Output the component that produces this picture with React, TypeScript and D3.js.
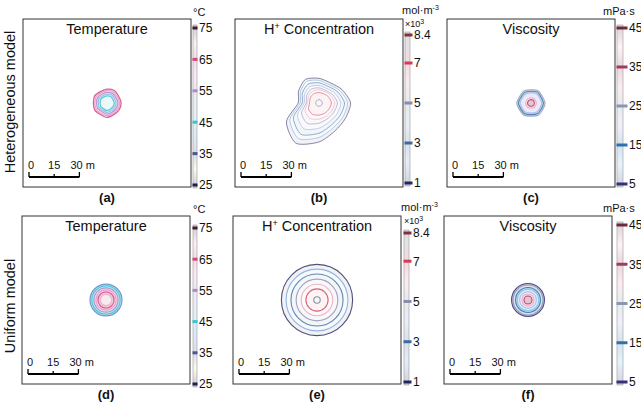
import * as d3 from "d3";

const W = 641;
const H = 408;
const BOX = 168; // panel side in px
const SIDE_M = 100; // panel side in metres
const FONT = "'Liberation Sans', Arial, Helvetica, sans-serif";

// polar sample angles (deg, counter-clockwise from east) for irregular contours
const angles = [0, 30, 60, 90, 120, 150, 180, 210, 240, 270, 300, 330];

// ---- colour bars ----
const tempTicks = [25, 35, 45, 55, 65, 75];
const tempStopVals = [25, 30, 35, 40, 45, 50, 55, 60, 65, 70, 75];
const tempStopCols = ["#1e1e4c", "#ece4a8", "#4c5888", "#5a88d0", "#38c4cc", "#90b0e4", "#a88cc8", "#e894cc", "#d4487c", "#e8b0c8", "#3c1c2e"];

const hTicks = [1, 3, 5, 7, 8.4];
const hStopVals = [1, 2, 3, 4, 5, 6, 7, 8, 8.4];
const hStopCols = ["#22285c", "#7aa4dc", "#3c6c9c", "#98a8dc", "#8a8cac", "#e8a0b4", "#d23c5a", "#747484", "#823040"];

const viscTicks = [5, 15, 25, 35, 45];
const viscStopVals = [5, 10, 15, 20, 25, 30, 35, 40, 45];
const viscStopCols = ["#36307c", "#7cc8ec", "#2e70b0", "#b4b4e8", "#8a98ae", "#f0a0bc", "#a03a60", "#f0c8d4", "#6a2c3c"];

// ---- contours (radius in metres from the well) ----
const hetTempLevels = [65, 60, 55, 50, 45];
const hetTempRadii = [
  [8.4, 8.0, 8.6, 8.2, 7.8, 8.5, 8.1, 8.4, 7.9, 8.6, 8.0, 8.3],
  [7.5, 7.1, 7.6, 7.3, 7.0, 7.5, 7.2, 7.4, 7.0, 7.6, 7.1, 7.3],
  [6.5, 6.2, 6.6, 6.3, 6.0, 6.5, 6.2, 6.4, 6.0, 6.6, 6.2, 6.3],
  [5.4, 5.2, 5.6, 5.3, 5.0, 5.5, 5.2, 5.4, 5.0, 5.6, 5.2, 5.3],
  [4.3, 4.1, 4.5, 4.2, 4.0, 4.4, 4.1, 4.3, 4.0, 4.5, 4.1, 4.2],
];
const uniTempLevels = [40, 45, 55, 60, 65, 70];
const uniTempRadii = [9.5, 8.4, 7.2, 6.0, 4.8, 3.4];

const hetHLevels = [1, 2, 3, 4, 5, 6, 7, 8];
const hetHRadii = [
  [18.8, 15.9, 13.8, 14.7, 16.2, 14.1, 12.4, 22.4, 27.6, 23.2, 19.1, 18.2],
  [17.0, 14.5, 12.5, 13.5, 14.8, 12.8, 11.2, 20.0, 24.5, 20.5, 17.0, 16.5],
  [15.2, 13.0, 11.3, 12.0, 13.0, 11.5, 10.0, 17.6, 21.5, 18.0, 15.0, 14.6],
  [13.0, 11.2, 9.8, 10.4, 11.2, 10.0, 8.8, 14.8, 17.8, 15.0, 12.8, 12.5],
  [11.0, 9.6, 8.5, 9.0, 9.5, 8.6, 7.6, 12.0, 14.0, 12.0, 10.6, 10.4],
  [9.4, 8.4, 7.6, 7.8, 8.0, 7.4, 6.8, 9.6, 10.6, 9.6, 8.8, 8.8],
  [7.4, 6.8, 6.2, 6.2, 6.4, 6.0, 5.6, 7.2, 7.8, 7.2, 7.0, 7.0],
  [2.0, 1.9, 2.0, 2.0, 1.9, 2.0, 2.0, 1.9, 2.0, 2.0, 1.9, 2.0],
];
const uniHLevels = [1, 2, 3, 5, 6, 7, 8];
const uniHRadii = [21.2, 18.4, 15.5, 12.4, 9.4, 6.6, 1.9];

const hetViscLevels = [25, 15, 20, 30, 35];
const hetViscRadii = [
  [8.4, 7.8, 8.5, 7.9, 8.3, 7.8, 8.5, 7.9, 8.4, 7.8, 8.4, 8.0],
  [7.4, 6.9, 7.5, 7.0, 7.3, 6.9, 7.5, 7.0, 7.4, 6.9, 7.4, 7.1],
  [6.3, 6.0, 6.4, 6.0, 6.2, 5.9, 6.4, 6.0, 6.3, 5.9, 6.3, 6.1],
  [3.2, 3.0, 3.3, 3.1, 3.2, 3.0, 3.3, 3.1, 3.2, 3.0, 3.2, 3.1],
  [2.0, 2.0, 2.1, 2.0, 2.0, 1.9, 2.1, 2.0, 2.0, 1.9, 2.0, 2.0],
];
const uniViscLevels = [5, 25, 15, 10, 20, 30, 35];
const uniViscRadii = [9.8, 8.9, 7.4, 6.4, 5.0, 3.6, 2.4];

const scaleBarTicks = [0, 15, 30];

const vars: any = {
  temp: { title: "Temperature", unit: "°C", ticks: tempTicks, vals: tempStopVals, cols: tempStopCols, barW: 4, bandW: 5 },
  h: { title: "H+ Concentration", unit: "mol·m", ticks: hTicks, vals: hStopVals, cols: hStopCols, barW: 5, bandW: 8 },
  visc: { title: "Viscosity", unit: "mPa·s", ticks: viscTicks, vals: viscStopVals, cols: viscStopCols, barW: 6, bandW: 11 },
};

const panels = [
  { key: "a", v: "temp", x: 23, y: 19, cb: 193, cbRange: [185, 28], levels: hetTempLevels, radii: hetTempRadii, tint: 0.9, sw: 1.3, so: 0.85 },
  { key: "b", v: "h", x: 235, y: 19, cb: 405, cbRange: [183, 35], levels: hetHLevels, radii: hetHRadii, tint: 0.94, sw: 0.9, so: 0.6 },
  { key: "c", v: "visc", x: 447, y: 19, cb: 617, cbRange: [184, 28], levels: hetViscLevels, radii: hetViscRadii, tint: 0.72, sw: 1.1, so: 0.8 },
  { key: "d", v: "temp", x: 22, y: 216, cb: 193, cbRange: [384, 228], levels: uniTempLevels, radii: uniTempRadii, tint: 0.72, sw: 1.2, so: 0.85 },
  { key: "e", v: "h", x: 233, y: 216, cb: 404, cbRange: [382, 233], levels: uniHLevels, radii: uniHRadii, tint: 0.94, sw: 1.1, so: 0.8 },
  { key: "f", v: "visc", x: 444, y: 216, cb: 617, cbRange: [382, 225], levels: uniViscLevels, radii: uniViscRadii, tint: 0.7, sw: 1.1, so: 0.85 },
];

const Panel = ({ p }: any) => {
  const v = vars[p.v];
  const xs = d3.scaleLinear([0, SIDE_M], [p.x, p.x + BOX]);
  const ys = d3.scaleLinear([0, SIDE_M], [p.y + BOX, p.y]);
  const rs = d3.scaleLinear([0, SIDE_M], [0, BOX]);
  const color: any = d3.scaleLinear<string>().domain(v.vals).range(v.cols).interpolate(d3.interpolateRgb);
  const lo = v.ticks[0];
  const hi = v.ticks[v.ticks.length - 1];
  const cbScale = d3.scaleLinear([lo, hi], p.cbRange);
  const cx = xs(SIDE_M / 2);
  const cy = ys(SIDE_M / 2);

  const radial = d3
    .lineRadial<number>()
    .angle((_d, i) => Math.PI / 2 - (angles[i] * Math.PI) / 180)
    .radius((d) => rs(d))
    .curve(d3.curveCardinalClosed.tension(0.25));

  const gradId = "grad-" + p.key;
  const gradStops = d3.range(0, 1.0001, 1 / 40).map((t) => {
    const val = hi - t * (hi - lo);
    return { off: t, col: d3.interpolateRgb(color(val), "#ffffff")(0.8) };
  });

  // scale bar
  const sb0 = p.x + 6;
  const sbx = d3.scaleLinear([0, 30], [sb0, sb0 + rs(30)]);
  const sby = p.y + BOX - 10;

  const isHet = Array.isArray(p.radii[0]);

  return (
    <g>
      <defs>
        <linearGradient id={gradId} gradientUnits="userSpaceOnUse" x1={0} x2={0} y1={cbScale(hi)} y2={cbScale(lo)}>
          {gradStops.map((s, i) => (
            <stop key={i} offset={s.off} stopColor={s.col} />
          ))}
        </linearGradient>
      </defs>

      {/* contours */}
      <g transform={`translate(${cx},${cy})`}>
        {p.levels.map((lv: number, i: number) => {
          const c = color(lv);
          const fill = d3.interpolateRgb(c, "#ffffff")(p.tint);
          return isHet ? (
            <path key={i} d={radial(p.radii[i]) as string} fill={fill} stroke={c} strokeWidth={p.sw} strokeOpacity={p.so} />
          ) : (
            <circle key={i} r={rs(p.radii[i])} fill={fill} stroke={c} strokeWidth={p.sw} strokeOpacity={p.so} />
          );
        })}
      </g>

      <rect x={p.x} y={p.y} width={BOX} height={BOX} fill="none" stroke="#333" strokeWidth={1} />

      {/* title */}
      <text x={p.x + BOX / 2} y={p.y + 15} textAnchor="middle" fontSize={14.5} fill="#111">
        {p.v === "h" ? (
          <>
            <tspan>H</tspan>
            <tspan dy={-5} fontSize={9}>+</tspan>
            <tspan dy={5}> Concentration</tspan>
          </>
        ) : (
          v.title
        )}
      </text>

      {/* scale bar */}
      <g stroke="#000" strokeWidth={2} fill="none">
        <line x1={sbx(0)} x2={sbx(30)} y1={sby} y2={sby} />
        {scaleBarTicks.map((t, i) => (
          <line key={i} x1={sbx(t)} x2={sbx(t)} y1={sby} y2={sby - (t === 15 ? 3 : 5)} strokeWidth={1.3} />
        ))}
      </g>
      <g fontSize={11} fill="#111">
        {scaleBarTicks.map((t, i) => (
          <text key={i} x={t === 0 ? sbx(t) - 1 : t === 15 ? sbx(t) : sbx(t) - 9} y={sby - 8} textAnchor={t === 15 ? "middle" : "start"}>
            {t === 30 ? "30 m" : String(t)}
          </text>
        ))}
      </g>

      {/* colour bar */}
      <rect x={p.cb} y={cbScale(hi) - 3} width={v.barW} height={cbScale(lo) - cbScale(hi) + 6} fill={`url(#${gradId})`} stroke="#999" strokeWidth={0.6} />
      {v.ticks.map((t: number, i: number) => (
        <g key={i}>
          <rect x={p.cb - 0.5} y={cbScale(t) - 1.5} width={v.bandW} height={3} fill={color(t)} />
          <text x={p.cb + v.bandW + 1} y={cbScale(t)} dy="0.36em" fontSize={12} fill="#111">
            {String(t)}
          </text>
        </g>
      ))}

      {/* units */}
      {p.v === "temp" && (
        <text x={p.cb} y={p.y - 3} fontSize={11} fill="#111">°C</text>
      )}
      {p.v === "h" && (
        <>
          <text x={p.cb - 3} y={p.y - 5} fontSize={11} fill="#111">
            mol·m<tspan dy={-4} fontSize={7}>-3</tspan>
          </text>
          <text x={p.cb} y={p.y + 8} fontSize={9} fill="#111">
            ×10<tspan dy={-3} fontSize={7}>3</tspan>
          </text>
        </>
      )}
      {p.v === "visc" && (
        <text x={p.cb - 14} y={p.y - 4} fontSize={11} fill="#111">mPa·s</text>
      )}

      {/* panel letter */}
      <text x={p.x + BOX / 2} y={p.y + BOX + 15} textAnchor="middle" fontSize={13} fontWeight="bold" fill="#111">
        ({p.key})
      </text>
    </g>
  );
};

const rowLabels = [
  { text: "Heterogeneous model", y: 102 },
  { text: "Uniform model", y: 306 },
];

export default function App() {
  return (
    <svg width={W} height={H} style={{ position: "absolute", left: 0, top: 0 }} fontFamily={FONT}>
      <rect width={W} height={H} fill="#fff" />
      {rowLabels.map((r, i) => (
        <text key={i} transform={`translate(15,${r.y}) rotate(-90)`} textAnchor="middle" fontSize={14.5} fill="#111">
          {r.text}
        </text>
      ))}
      {panels.map((p) => (
        <Panel key={p.key} p={p} />
      ))}
    </svg>
  );
}
